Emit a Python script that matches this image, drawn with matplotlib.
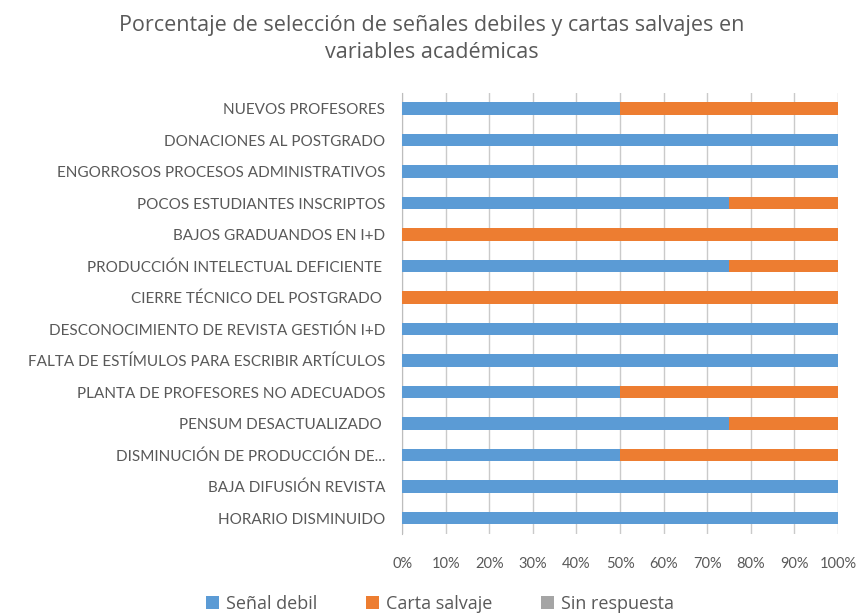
'''
Stacked 100% bar chart: weak signals and wild cards in academic variables.
'''

# %% Imports.
import numpy as np
from matplotlib import pyplot as plt
from matplotlib.patches import Patch

# %% Data.
categorias = ['NUEVOS PROFESORES',
              'DONACIONES AL POSTGRADO',
              'ENGORROSOS PROCESOS ADMINISTRATIVOS',
              'POCOS ESTUDIANTES INSCRIPTOS',
              'BAJOS GRADUANDOS EN I+D',
              'PRODUCCIÓN INTELECTUAL DEFICIENTE ',
              'CIERRE TÉCNICO DEL POSTGRADO ',
              'DESCONOCIMIENTO DE REVISTA GESTIÓN I+D',
              'FALTA DE ESTÍMULOS PARA ESCRIBIR ARTÍCULOS',
              'PLANTA DE PROFESORES NO ADECUADOS',
              'PENSUM DESACTUALIZADO ',
              'DISMINUCIÓN DE PRODUCCIÓN DE...',
              'BAJA DIFUSIÓN REVISTA',
              'HORARIO DISMINUIDO']
senal_debil = [50, 100, 100, 75, 0, 75, 0, 100, 100, 50, 75, 50, 100, 100]
carta_salvaje = [50, 0, 0, 25, 100, 25, 100, 0, 0, 50, 25, 50, 0, 0]
sin_respuesta = [0, 0, 0, 0, 0, 0, 0, 0, 0, 0, 0, 0, 0, 0]
series = ['Señal debil', 'Carta salvaje', 'Sin respuesta']
ticks_x = [0, 10, 20, 30, 40, 50, 60, 70, 80, 90, 100]

# %% Style.
plt.rcParams['font.family'] = ['Lato', 'DejaVu Sans']
color = ['#5B9BD5', '#ED7D31', '#A5A5A5']
gris = '#595959'

# %% Chart.
fig = plt.figure(figsize=(8.63, 6.15), dpi=100)
ax = fig.add_axes([0.466, 0.132, 0.505, 0.717])

y = np.arange(len(categorias))
izq = np.zeros(len(categorias))
for vals, col in zip([senal_debil, carta_salvaje, sin_respuesta], color):
    ax.barh(y, vals, left=izq, height=0.4, color=col, zorder=3)
    izq = izq + np.array(vals)

# Axis:
ax.set_ylim(len(categorias) - 0.5, -0.5)
ax.set_xlim(0, 100)
ax.set_yticks(y)
ax.set_yticklabels(categorias, fontsize=11, color=gris)
ax.set_xticks(ticks_x)
ax.set_xticklabels(['{}%'.format(t) for t in ticks_x], fontsize=10.5, color=gris)
ax.tick_params(axis='y', length=0, pad=12)
ax.tick_params(axis='x', length=0, pad=17)
ax.set_axisbelow(True)
ax.grid(True, axis='x', color='#A8A8A8', linewidth=1.0, alpha=0.6)
for s in ['top', 'right', 'bottom']:
    ax.spines[s].set_visible(False)
ax.spines['left'].set_color('#BDBDBD')

# Title:
fig.text(0.5, 0.937, 'Porcentaje de selección de señales debiles y cartas salvajes en\nvariables académicas',
         ha='center', va='center', fontsize=15.5, color=gris, linespacing=1.35,
         family=['Open Sans', 'DejaVu Sans'])

# Legend:
handles = [Patch(facecolor=c, edgecolor='none') for c in color]
fig.legend(handles, series, loc='center', bbox_to_anchor=(0.51, 0.018), ncol=3,
           frameon=False, prop={'family': ['Open Sans', 'DejaVu Sans'], 'size': 13},
           labelcolor=gris, handlelength=0.7, handleheight=0.7, handletextpad=0.4,
           columnspacing=2.7)

plt.savefig('out.png', dpi=100)
